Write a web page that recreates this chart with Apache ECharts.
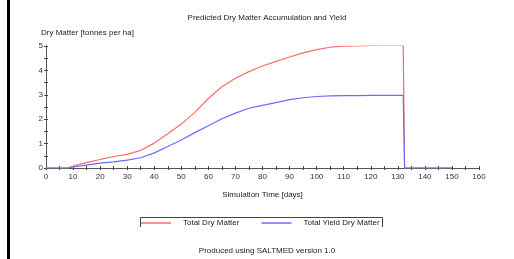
<!DOCTYPE html>
<html><head><meta charset="utf-8">
<script src="https://cdn.jsdelivr.net/npm/echarts@6/dist/echarts.min.js"></script>
<style>html,body{margin:0;padding:0;background:#fff}#c{width:514px;height:259px}</style>
</head><body><div id="c"></div>
<script>
const days = [0, 5, 8, 10, 15, 20, 25, 30, 35, 40, 45, 50, 55, 60, 65, 70, 75, 80, 85, 90, 95, 100, 105, 110, 115, 120, 125, 130, 132, 132.5, 140, 150];
const totalDryMatter = [0, 0, 0, 0.08, 0.22, 0.35, 0.47, 0.56, 0.72, 1.02, 1.4, 1.8, 2.28, 2.85, 3.33, 3.68, 3.95, 4.18, 4.37, 4.55, 4.72, 4.85, 4.95, 4.99, 5.0, 5.02, 5.03, 5.03, 5.03, 0, 0, 0];
const totalYieldDryMatter = [0, 0, 0, 0.04, 0.12, 0.2, 0.25, 0.32, 0.42, 0.62, 0.88, 1.15, 1.45, 1.73, 2.02, 2.25, 2.45, 2.57, 2.68, 2.8, 2.88, 2.93, 2.96, 2.97, 2.97, 2.98, 2.98, 2.98, 2.98, 0, 0, 0];
const seriesNames = ['Total Dry Matter', 'Total Yield Dry Matter'];
const xMin = 0, xMax = 160, xStep = 10;
const yMin = 0, yMax = 5, yStep = 1;

const FONT = 'Liberation Sans';
const chart = echarts.init(document.getElementById('c'), null, {renderer: 'canvas'});
const pairs = arr => days.map((d, i) => [d, arr[i]]);
const axisCommon = {
  axisLine: {lineStyle: {color: '#555', width: 1}},
  splitLine: {show: false}
};
chart.setOption({
  animation: false,
  textStyle: {fontFamily: FONT},
  title: [
    {text: 'Predicted Dry Matter Accumulation and Yield', left: 262, textAlign: 'center', top: 9,
     textStyle: {fontSize: 8, fontWeight: 'normal', color: '#222', fontFamily: FONT}},
    {text: 'Produced using SALTMED version 1.0', left: 262, textAlign: 'center', top: 242,
     textStyle: {fontSize: 8, fontWeight: 'normal', color: '#222', fontFamily: FONT}}
  ],
  grid: {left: 46, right: 35, top: 46, bottom: 91},
  legend: {
    data: seriesNames,
    left: 141, top: 219,
    icon: 'rect', itemWidth: 30, itemHeight: 1.5, itemGap: 22,
    padding: 0,
    textStyle: {fontSize: 8, color: '#222', fontFamily: FONT, padding: [0, 0, 0, 7]}
  },
  xAxis: [
    Object.assign({}, axisCommon, {
      type: 'value', min: xMin, max: xMax, interval: xStep / 2,
      name: 'Simulation Time [days]', nameLocation: 'middle', nameGap: 23,
      nameTextStyle: {fontSize: 8, color: '#222', fontFamily: FONT},
      axisTick: {show: true, length: 2, lineStyle: {color: '#444'}},
      axisLabel: {fontSize: 8, color: '#333', margin: 5,
        formatter: v => (v % xStep === 0 ? String(v) : '')}
    }),
    Object.assign({}, axisCommon, {
      type: 'value', min: xMin, max: xMax, interval: xStep / 2, position: 'bottom',
      axisTick: {show: true, inside: true, length: 2, lineStyle: {color: '#444'}},
      axisLabel: {show: false}
    })
  ],
  yAxis: [
    Object.assign({}, axisCommon, {
      type: 'value', min: yMin, max: yMax, interval: yStep / 2,
      name: 'Dry Matter [tonnes per ha]', nameLocation: 'end', nameGap: 9,
      nameTextStyle: {fontSize: 8, color: '#222', fontFamily: FONT, align: 'left', padding: [0, 0, 0, -5]},
      axisTick: {show: true, length: 2, lineStyle: {color: '#444'}},
      axisLabel: {fontSize: 8, color: '#333', margin: 3,
        formatter: v => (v % yStep === 0 ? String(v) : '')}
    }),
    Object.assign({}, axisCommon, {
      type: 'value', min: yMin, max: yMax, interval: yStep / 2, position: 'left',
      axisTick: {show: true, inside: true, length: 2, lineStyle: {color: '#444'}},
      axisLabel: {show: false}
    })
  ],
  series: [
    {name: seriesNames[0], type: 'line', data: pairs(totalDryMatter), showSymbol: false,
     lineStyle: {color: '#ff6b6b', width: 1.2}, itemStyle: {color: '#ff6b6b'}, z: 3},
    {name: seriesNames[1], type: 'line', data: pairs(totalYieldDryMatter), showSymbol: false,
     lineStyle: {color: '#6b6bff', width: 1.2}, itemStyle: {color: '#6b6bff'}, z: 4}
  ],
  graphic: [
    {type: 'rect', shape: {x: 7, y: 0, width: 3, height: 259}, style: {fill: '#000'}},
    {type: 'polyline', shape: {points: [[140.5, 227], [140.5, 217.5], [382.5, 217.5], [382.5, 227]]},
     style: {stroke: '#444', lineWidth: 1, fill: null}}
  ]
});
</script>
</body></html>
